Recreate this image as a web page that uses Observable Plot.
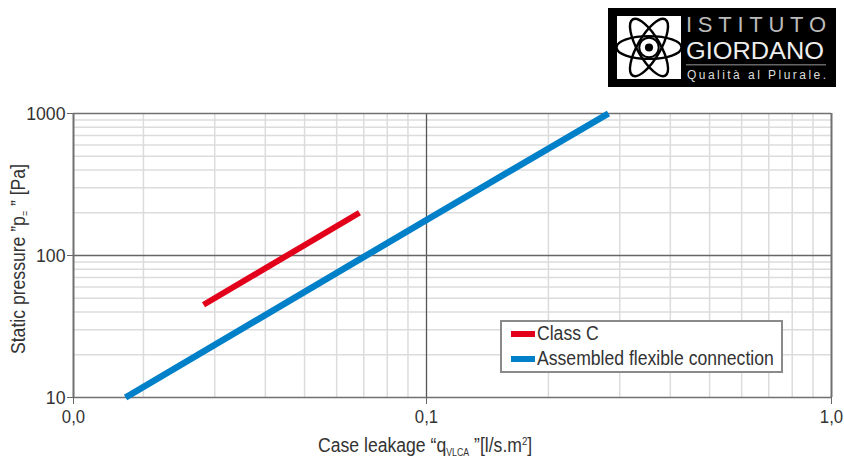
<!DOCTYPE html>
<html><head><meta charset="utf-8">
<script src="https://cdn.jsdelivr.net/npm/d3@7"></script>
<script src="https://cdn.jsdelivr.net/npm/@observablehq/plot@0.6"></script>
<style>
html,body{margin:0;padding:0;background:#fff}
#wrap{position:relative;width:844px;height:462px;overflow:hidden;font-family:"Liberation Sans",sans-serif;color:#333}
#wrap>div{position:absolute}
#wrap sub{font-size:10px;vertical-align:-4px;line-height:0}
#wrap sup{font-size:11px;vertical-align:7px;line-height:0}
.sq{display:inline-block;transform:scaleX(.88);transform-origin:left center;white-space:nowrap}
</style></head><body><div id="wrap"></div>
<script>
const xDomain=[0.01344,1];
const yDomain=[10,1000];
const xMajor=[0.1];
const xMinor=[0.02,0.03,0.04,0.05,0.06,0.07,0.08,0.09,0.2,0.3,0.4,0.5,0.6,0.7,0.8,0.9];
const yMajor=[100];
const yMinor=[20,30,40,50,60,70,80,90,200,300,400,500,600,700,800,900];
const xTicks=[0.01344,0.1,1];
const xTickLabels=["0,0","0,1","1,0"];
const yTicks=[10,100,1000];
const yTickLabels=["10","100","1000"];
const classCq=[0.02815,0.0683];
const classCp=[45,200];
const flexQ=[0.01807,0.1,0.2814];
const flexP=[10,178,1000];
const series=["Class C","Assembled flexible connection"];
const colors=["#e2001a","#0080c8"];
const rows=a=>a[0].map((q,i)=>({q,p:a[1][i]}));
const chart=Plot.plot({
  width:844,height:462,marginLeft:73,marginRight:13,marginTop:113,marginBottom:65,
  style:{fontFamily:'"Liberation Sans",sans-serif',background:"transparent"},
  x:{type:"log",domain:xDomain,axis:null},
  y:{type:"log",domain:yDomain,axis:null},
  marks:[
    Plot.ruleX(xMinor,{stroke:"#dcdcdc",strokeWidth:1.5}),
    Plot.ruleY(yMinor,{stroke:"#dcdcdc",strokeWidth:1.5}),
    Plot.ruleX(xMajor,{stroke:"#555",strokeWidth:1.3}),
    Plot.ruleY(yMajor,{stroke:"#666",strokeWidth:1.3}),
    Plot.ruleX([xDomain[0],xDomain[1]],{stroke:"#707070",strokeWidth:2}),
    Plot.ruleY([yDomain[0],yDomain[1]],{stroke:"#707070",strokeWidth:1.6}),
    Plot.axisX({ticks:xTicks,tickFormat:d=>xTickLabels[xTicks.indexOf(d)],tickSize:7,tickPadding:6,fontSize:18,stroke:"#666",fill:"#333",label:null}),
    Plot.axisY({ticks:yTicks,tickFormat:d=>yTickLabels[yTicks.indexOf(d)],tickSize:6,tickPadding:2,fontSize:19,stroke:"#666",fill:"#333",label:null}),
    Plot.line(rows([classCq,classCp]),{x:"q",y:"p",stroke:colors[0],strokeWidth:6,strokeLinecap:"butt"}),
    Plot.line(rows([flexQ,flexP]),{x:"q",y:"p",stroke:colors[1],strokeWidth:6.5,strokeLinecap:"butt"})
  ]
});
const wrap=document.getElementById("wrap");
wrap.append(chart);
chart.style.position="absolute";chart.style.left="0";chart.style.top="0";
const add=(css,html)=>{const d=document.createElement("div");d.style.cssText=css;d.innerHTML=html;wrap.append(d);return d;};
chart.querySelectorAll("text").forEach(t=>{const l=t.getComputedTextLength();t.setAttribute("textLength",l*0.93);t.setAttribute("lengthAdjust","spacingAndGlyphs");});
add("left:318px;top:434px;font-size:20px;white-space:nowrap",'<span class="sq">Case leakage “q<sub>VLCA</sub> ”[l/s.m<sup>2</sup>]</span>');
add("left:18px;top:259px;width:0;height:0;white-space:nowrap;font-size:20px",'<div style="position:absolute;left:0;top:0;transform:translate(-50%,-50%) rotate(-90deg) scaleX(.88)">Static pressure ”p<sub>=</sub> ” [Pa]</div>');
add("left:500px;top:320px;width:279px;height:49px;background:#fff;border:2px solid #8a8a8a;font-size:20px;line-height:25px;white-space:nowrap",
  series.map((s,i)=>`<div style="position:absolute;left:9px;top:${9+i*25}px;width:24px;height:6px;background:${colors[i]}"></div><div style="position:absolute;left:35px;top:${i*25-1}px"><span class="sq">${s}</span></div>`).join(""));
// Logo
const petal=[0,60,120].map(a=>`<ellipse cx="40" cy="40" rx="40" ry="14" fill="none" stroke="#000" stroke-width="3" transform="rotate(${a} 40 40)"/>`).join("");
const logo=document.createElementNS("http://www.w3.org/2000/svg","svg");
logo.setAttribute("width",228);logo.setAttribute("height",79);
logo.style.cssText="position:absolute;left:608px;top:8px";
logo.innerHTML=`<rect width="228" height="79" fill="#000"/>
<rect x="9" y="8" width="64" height="63" fill="#fff"/>
<svg x="8" y="7" width="66" height="65" viewBox="0 0 80 80" overflow="visible">${petal}<circle cx="40" cy="40" r="12" fill="none" stroke="#000" stroke-width="2.5"/><circle cx="40" cy="40" r="5" fill="#000"/></svg>
<text x="78" y="24" font-family="Liberation Sans" font-size="22" fill="#bbb" textLength="140" lengthAdjust="spacing">ISTITUTO</text>
<text x="78" y="51" font-family="Liberation Sans" font-size="23" fill="#eee" textLength="138" lengthAdjust="spacingAndGlyphs">GIORDANO</text>
<rect x="78" y="56" width="140" height="1.5" fill="#666"/>
<text x="79" y="71" font-family="Liberation Sans" font-size="12" fill="#ddd" textLength="139" lengthAdjust="spacing">Qualità al Plurale.</text>`;
wrap.append(logo);
</script></body></html>
